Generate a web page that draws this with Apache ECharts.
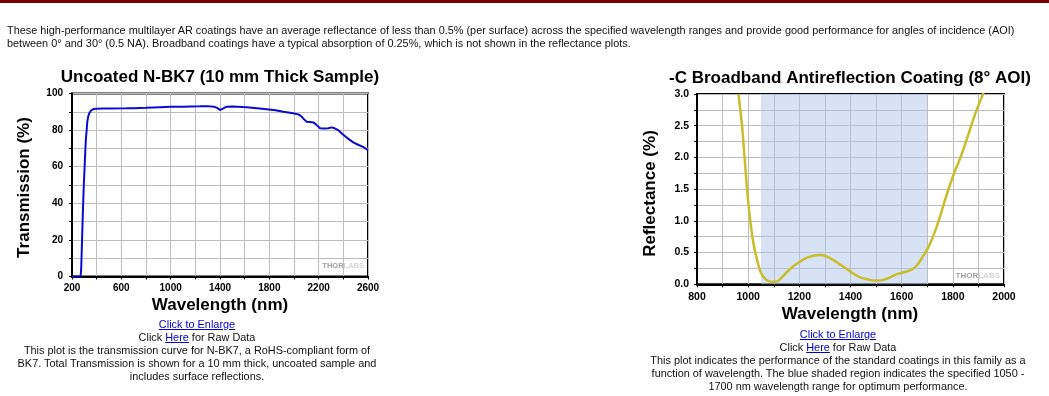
<!DOCTYPE html>
<html>
<head>
<meta charset="utf-8">
<script src="https://cdn.jsdelivr.net/npm/echarts@6/dist/echarts.min.js"></script>
<style>
  html, body { margin: 0; padding: 0; background: #fff; }
  #wrap { position: relative; width: 1049px; height: 396px; overflow: hidden; font-family: "Liberation Sans", Arial, sans-serif; }
  #chart { position: absolute; left: 0; top: 0; width: 1049px; height: 396px; }
  .bar { position: absolute; left: 0; top: 0; width: 1049px; height: 3px; background: #7a0000; }
  .ln { position: absolute; white-space: nowrap; font-size: 10.9px; line-height: 13px; color: #111; }
  .c { text-align: center; width: 500px; }
  a { color: #0000cc; text-decoration: underline; }
</style>
</head>
<body>
<div id="wrap">
  <div id="chart"></div>
  <div class="bar"></div>
  <div class="ln" style="left:7px; top:23.5px;">These high-performance multilayer AR coatings have an average reflectance of less than 0.5% (per surface) across the specified wavelength ranges and provide good performance for angles of incidence (AOI)</div>
  <div class="ln" style="left:7px; top:37px;">between 0° and 30° (0.5 NA). Broadband coatings have a typical absorption of 0.25%, which is not shown in the reflectance plots.</div>

  <div class="ln c" style="left:-53px; top:317.5px;"><a>Click to Enlarge</a></div>
  <div class="ln c" style="left:-53px; top:331px;">Click <a>Here</a> for Raw Data</div>
  <div class="ln c" style="left:-53px; top:344px;">This plot is the transmission curve for N-BK7, a RoHS-compliant form of</div>
  <div class="ln c" style="left:-53px; top:357px;">BK7. Total Transmission is shown for a 10 mm thick, uncoated sample and</div>
  <div class="ln c" style="left:-53px; top:370px;">includes surface reflections.</div>

  <div class="ln c" style="left:588px; top:327.5px;"><a>Click to Enlarge</a></div>
  <div class="ln c" style="left:588px; top:341px;">Click <a>Here</a> for Raw Data</div>
  <div class="ln c" style="left:588px; top:354px;">This plot indicates the performance of the standard coatings in this family as a</div>
  <div class="ln c" style="left:588px; top:366.5px;">function of wavelength. The blue shaded region indicates the specified 1050 -</div>
  <div class="ln c" style="left:588px; top:379.5px;">1700 nm wavelength range for optimum performance.</div>
</div>
<script>
// ---- Data: Uncoated N-BK7 transmission ----
const bk7Wavelength = [200, 270, 275, 281, 286, 292, 297, 303, 308, 313, 319, 324, 332, 340, 355, 373, 400, 450, 500, 643, 700, 800, 913, 1000, 1100, 1238, 1300, 1350, 1380, 1400, 1420, 1454, 1500, 1616, 1700, 1779, 1850, 1913, 1980, 2035, 2060, 2080, 2103, 2130, 2157, 2180, 2211, 2250, 2278, 2305, 2330, 2359, 2390, 2427, 2455, 2481, 2520, 2560, 2600];
const bk7Transmission = [0, 0, 5, 19, 30, 43, 52, 61, 69, 75.5, 80, 84.6, 87.5, 89.2, 90.7, 91.5, 91.7, 91.8, 91.8, 91.9, 92, 92.2, 92.5, 92.7, 92.8, 93, 93.1, 92.8, 92, 91, 91.6, 92.8, 92.9, 92.5, 92, 91.4, 90.8, 90, 89.3, 88.6, 87.5, 86, 84.6, 84.4, 84.2, 83, 81, 80.9, 81, 81.5, 81, 80, 78, 75.9, 74.5, 73.3, 72, 70.8, 69];

// ---- Data: -C broadband AR coating reflectance ----
const arWavelength = [962, 976, 985, 995, 1006, 1020, 1037, 1051, 1066, 1080, 1098, 1115, 1130, 1151, 1175, 1203, 1230, 1256, 1280, 1300, 1334, 1360, 1386, 1410, 1438, 1465, 1490, 1510, 1529, 1555, 1581, 1610, 1639, 1660, 1680, 1705, 1730, 1750, 1775, 1802, 1830, 1854, 1880, 1900, 1920];
const arReflectance = [3.0, 2.5, 2.05, 1.53, 1.08, 0.66, 0.35, 0.17, 0.09, 0.05, 0.04, 0.05, 0.1, 0.19, 0.28, 0.36, 0.42, 0.45, 0.46, 0.45, 0.38, 0.31, 0.24, 0.17, 0.11, 0.08, 0.06, 0.06, 0.07, 0.11, 0.16, 0.19, 0.23, 0.3, 0.42, 0.59, 0.83, 1.07, 1.4, 1.72, 2.0, 2.28, 2.6, 2.82, 3.02];
const arShadedRange = [1050, 1700];

// ---- Tick labels ----
const bk7XLabels = [200, 600, 1000, 1400, 1800, 2200, 2600];
const bk7YLabels = [0, 20, 40, 60, 80, 100];
const arXLabels = [800, 1000, 1200, 1400, 1600, 1800, 2000];
const arYLabels = ['0.0', '0.5', '1.0', '1.5', '2.0', '2.5', '3.0'];

const FONT = '"Liberation Sans", Arial, sans-serif';
const gridLine = { show: true, lineStyle: { color: '#bdbdbd', width: 1 } };
const axLine = { show: true, onZero: false, lineStyle: { color: '#000', width: 2 } };
const tick = { show: true, inside: false, length: 3, lineStyle: { color: '#000', width: 1 } };

function lbl(list, size, margin, fmt) {
  return {
    show: true, color: '#000', fontWeight: 'bold', fontSize: size, fontFamily: FONT, margin: margin,
    formatter: function (v) {
      const s = fmt ? fmt(v) : String(Math.round(v));
      return list.map(String).indexOf(s) >= 0 ? s : '';
    }
  };
}

const chart = echarts.init(document.getElementById('chart'), null, { renderer: 'canvas' });
chart.setOption({
  animation: false,
  backgroundColor: '#fff',
  grid: [
    { left: 72, top: 93.5, width: 296, height: 183, show: true, borderColor: '#000', borderWidth: 2, backgroundColor: '#fff' },
    { left: 697, top: 94, width: 307, height: 190.3, show: true, borderColor: '#000', borderWidth: 2, backgroundColor: '#fff' }
  ],
  xAxis: [
    { gridIndex: 0, type: 'value', min: 200, max: 2600, interval: 200, axisLine: axLine, axisTick: tick, splitLine: gridLine,
      axisLabel: lbl(bk7XLabels, 10, 7) },
    { gridIndex: 1, type: 'value', min: 800, max: 2000, interval: 100, axisLine: axLine, axisTick: tick, splitLine: gridLine,
      axisLabel: lbl(arXLabels, 10.5, 7) }
  ],
  yAxis: [
    { gridIndex: 0, type: 'value', min: 0, max: 100, interval: 10, axisLine: axLine, axisTick: tick, splitLine: gridLine,
      axisLabel: lbl(bk7YLabels, 10, 9) },
    { gridIndex: 1, type: 'value', min: 0, max: 3, interval: 0.25, axisLine: axLine, axisTick: tick, splitLine: gridLine,
      axisLabel: lbl(arYLabels, 10.5, 8, function (v) { return v.toFixed(1); }) }
  ],
  series: [
    { type: 'line', xAxisIndex: 0, yAxisIndex: 0, showSymbol: false, symbol: 'none', clip: true,
      lineStyle: { color: '#0a0ad0', width: 2 },
      data: bk7Wavelength.map((w, i) => [w, bk7Transmission[i]]) },
    { type: 'line', xAxisIndex: 1, yAxisIndex: 1, showSymbol: false, symbol: 'none', clip: true, smooth: 0.3,
      lineStyle: { color: '#c9bd2a', width: 2.5 },
      markArea: { silent: true, itemStyle: { color: 'rgba(175,198,236,0.5)' },
        data: [[{ xAxis: arShadedRange[0] }, { xAxis: arShadedRange[1] }]] },
      data: arWavelength.map((w, i) => [w, arReflectance[i]]) }
  ],
  graphic: [
    { type: 'text', x: 220, y: 77.5, style: { text: 'Uncoated N-BK7 (10 mm Thick Sample)', font: 'bold 17px ' + FONT, fill: '#000', align: 'center', verticalAlign: 'middle' } },
    { type: 'text', x: 850, y: 78.5, style: { text: '-C Broadband Antireflection Coating (8° AOI)', font: 'bold 17px ' + FONT, fill: '#000', align: 'center', verticalAlign: 'middle' } },
    { type: 'text', x: 220, y: 305, style: { text: 'Wavelength (nm)', font: 'bold 17px ' + FONT, fill: '#000', align: 'center', verticalAlign: 'middle' } },
    { type: 'text', x: 850, y: 314.5, style: { text: 'Wavelength (nm)', font: 'bold 17px ' + FONT, fill: '#000', align: 'center', verticalAlign: 'middle' } },
    { type: 'text', x: 24, y: 187.5, rotation: Math.PI / 2, style: { text: 'Transmission (%)', font: 'bold 17px ' + FONT, fill: '#000', align: 'center', verticalAlign: 'middle' } },
    { type: 'text', x: 650.5, y: 193.5, rotation: Math.PI / 2, style: { text: 'Reflectance (%)', font: 'bold 17px ' + FONT, fill: '#000', align: 'center', verticalAlign: 'middle' } },
    { type: 'text', x: 364, y: 266, z: 10, style: { text: '{a|THOR}{b|LABS}', align: 'right', verticalAlign: 'middle',
        rich: { a: { font: 'bold 7.5px ' + FONT, fill: '#a0a0a0' }, b: { font: 'bold 7.5px ' + FONT, fill: '#d4d4d4' } } } },
    { type: 'text', x: 1000, y: 275.5, z: 10, style: { text: '{a|THOR}{b|LABS}', align: 'right', verticalAlign: 'middle',
        rich: { a: { font: 'bold 8px ' + FONT, fill: '#a0a0a0' }, b: { font: 'bold 8px ' + FONT, fill: '#d4d4d4' } } } }
  ]
});
</script>
</body>
</html>
